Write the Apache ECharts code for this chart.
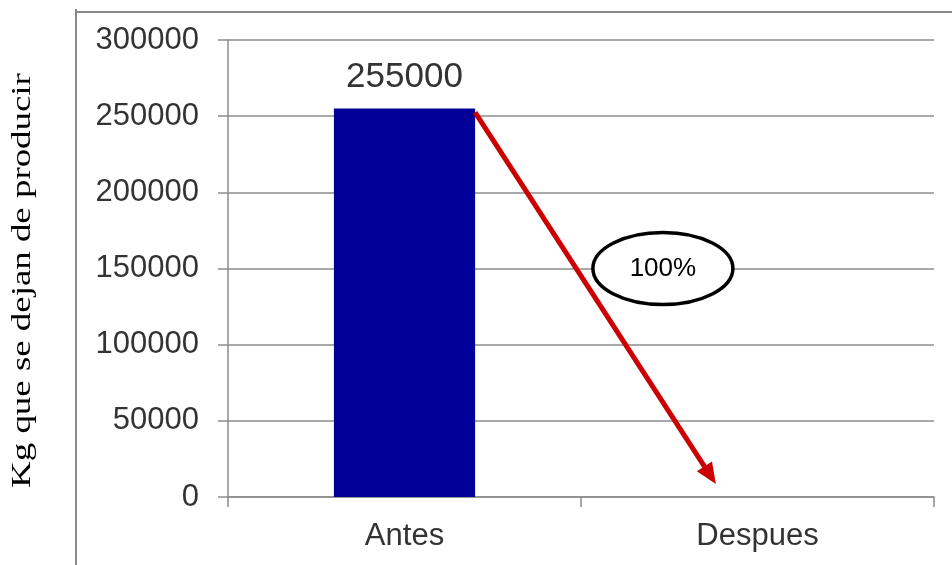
<!DOCTYPE html>
<html><head><meta charset="utf-8">
<script src="https://cdn.jsdelivr.net/npm/echarts@6/dist/echarts.min.js"></script>
<style>html,body{margin:0;padding:0;background:#fff}#c{width:952px;height:565px}</style>
</head><body><div id="c"></div>
<script>
// ---- data ----
const categories = ['Antes', 'Despues'];
const values = [255000, 0];
const yMin = 0, yMax = 300000, yInterval = 50000;
const yTitle = 'Kg que se dejan de producir';
// annotation: arrow from top-right of the bar down toward "Despues"
const arrowStart = [0, 0.2, 252500];   // [category index, offset in category widths, value]
const arrowEnd = [1, -0.118, 8500];
const ellipseCenter = [1, -0.268, 150000];
const ellipseText = '100%';

const chart = echarts.init(document.getElementById('c'), null, {renderer: 'canvas'});
const textCol = '#333333';
const gridCol = '#8c8c8c';
const frameEls = [
  {type: 'rect', shape: {x: 75, y: 11, width: 880, height: 2}, style: {fill: '#8a8a8a'}, z: 50, silent: true},
  {type: 'rect', shape: {x: 75, y: 9, width: 2, height: 600}, style: {fill: '#8a8a8a'}, z: 50, silent: true},
  {type: 'text', x: 23, y: 280.5, rotation: Math.PI / 2, scaleX: 1.366,
   style: {text: yTitle, font: '27px "Liberation Serif"', fill: '#000', align: 'center', verticalAlign: 'middle'}}
];
const option = {
  animation: false,
  backgroundColor: '#ffffff',
  grid: {left: 228, right: 18, top: 40, bottom: 68, containLabel: false, outerBoundsMode: 'none'},
  xAxis: {
    type: 'category', data: categories, boundaryGap: true,
    axisLine: {show: true, lineStyle: {color: gridCol, width: 1.5}},
    axisTick: {show: true, length: 10, alignWithLabel: false, lineStyle: {color: gridCol, width: 1.5}},
    axisLabel: {color: textCol, fontFamily: 'Liberation Sans', fontSize: 31, margin: 24},
    splitLine: {show: false}
  },
  yAxis: {
    type: 'value', min: yMin, max: yMax, interval: yInterval,
    axisLine: {show: true, lineStyle: {color: gridCol, width: 1.5}},
    axisTick: {show: true, length: 10, lineStyle: {color: gridCol, width: 1.5}},
    axisLabel: {color: textCol, fontFamily: 'Liberation Sans', fontSize: 31, margin: 29,
                formatter: v => String(v)},
    splitLine: {show: true, lineStyle: {color: gridCol, width: 1.5}}
  },
  series: [{
    type: 'bar', data: values, barWidth: '40%',
    itemStyle: {color: '#000099'},
    label: {
      show: true, position: 'top', distance: 14, color: textCol,
      fontFamily: 'Liberation Sans', fontSize: 35,
      formatter: p => (p.value ? String(p.value) : '')
    }
  }],
  graphic: frameEls
};
chart.setOption(option);

function px(a) {
  const x0 = chart.convertToPixel({xAxisIndex: 0}, 0);
  const x1 = chart.convertToPixel({xAxisIndex: 0}, 1);
  const w = x1 - x0;
  const xc = chart.convertToPixel({xAxisIndex: 0}, a[0]);
  return [xc + a[1] * w, chart.convertToPixel({yAxisIndex: 0}, a[2])];
}
const s = px(arrowStart), e = px(arrowEnd), c = px(ellipseCenter);
const dx = e[0] - s[0], dy = e[1] - s[1], L = Math.hypot(dx, dy);
const ux = dx / L, uy = dy / L, nx = -uy, ny = ux;
const headLen = 21, headHalf = 9;
const bx = e[0] - ux * headLen, by = e[1] - uy * headLen;
const red = '#cc0000';
chart.setOption({
  graphic: frameEls.concat([
    {type: 'line', shape: {x1: s[0], y1: s[1], x2: bx + ux * 2, y2: by + uy * 2},
     style: {stroke: red, lineWidth: 5}, z: 100},
    {type: 'polygon', shape: {points: [[e[0], e[1]], [bx + nx * headHalf, by + ny * headHalf], [bx - nx * headHalf, by - ny * headHalf]]},
     style: {fill: red}, z: 100},
    {type: 'ellipse', shape: {cx: c[0], cy: c[1], rx: 70, ry: 36},
     style: {fill: '#fff', stroke: '#000', lineWidth: 3.5}, z: 100},
    {type: 'text', x: c[0], y: c[1],
     style: {text: ellipseText, font: '26px "Liberation Sans"', fill: '#000', align: 'center', verticalAlign: 'middle'}, z: 101}
  ])
}, {replaceMerge: ['graphic']});
</script>
</body></html>
